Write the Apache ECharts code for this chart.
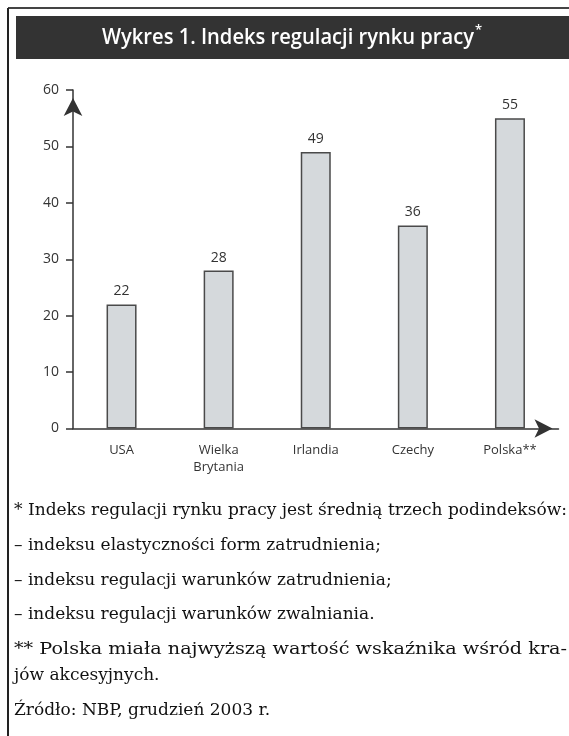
<!DOCTYPE html>
<html>
<head>
<meta charset="utf-8">
<script src="https://cdn.jsdelivr.net/npm/echarts@6/dist/echarts.min.js"></script>
<style>
  html, body { margin: 0; padding: 0; background: #fff; }
  #chart { width: 569px; height: 736px; }
</style>
</head>
<body>
<div id="chart"></div>
<script>
// dane wykresu
const categories = ['USA', 'Wielka Brytania', 'Irlandia', 'Czechy', 'Polska**'];
const values = [22, 28, 49, 36, 55];
const yMin = 0;
const yMax = 60;
const yStep = 10;

const titleText = 'Wykres 1. Indeks regulacji rynku pracy';
const notes = [
  '* Indeks regulacji rynku pracy jest średnią trzech podindeksów:',
  '– indeksu elastyczności form zatrudnienia;',
  '– indeksu regulacji warunków zatrudnienia;',
  '– indeksu regulacji warunków zwalniania.',
  '** Polska miała najwyższą wartość wskaźnika wśród kra-',
  'jów akcesyjnych.',
  'Źródło: NBP, grudzień 2003 r.'
];
const notesY = [511, 546, 581, 615, 650, 676, 711];
const justified = [true, false, false, false, true, false, false];

const chart = echarts.init(document.getElementById('chart'));

const axisColor = '#333';
const sans = '"Open Sans", "Noto Sans", sans-serif';
const titleFont = '600 21px ' + sans;
const noteFont = '17px "DejaVu Serif", "Liberation Serif", serif';

// szerokość tekstu (do ściśnięcia tytułu i wyjustowania przypisów)
const ctx = document.createElement('canvas').getContext('2d');
function textWidth(str, font) {
  ctx.font = font;
  return ctx.measureText(str).width;
}

const titleW = textWidth(titleText, titleFont);
const titleScale = 372 / titleW;
const titleLeft = 288 - 372 / 2;

const graphic = [
  // ramka
  { type: 'line', shape: { x1: 8, y1: 8, x2: 569, y2: 8 }, style: { stroke: '#444', lineWidth: 2 } },
  { type: 'line', shape: { x1: 8, y1: 8, x2: 8, y2: 736 }, style: { stroke: '#222', lineWidth: 2 } },
  // pasek tytułu
  { type: 'rect', shape: { x: 16, y: 16, width: 560, height: 43 }, style: { fill: '#333' } },
  {
    type: 'text', x: titleLeft, y: 38, scaleX: titleScale,
    style: { text: titleText, fill: '#fff', font: titleFont, verticalAlign: 'middle' }
  },
  {
    type: 'text', x: titleLeft + 373, y: 30,
    style: { text: '*', fill: '#fff', font: '600 13px ' + sans, verticalAlign: 'middle' }
  }
];

notes.forEach((line, i) => {
  const w = textWidth(line, noteFont);
  const sx = justified[i] ? 553 / w : 1;
  graphic.push({
    type: 'text', x: 14, y: notesY[i], scaleX: sx,
    style: { text: line, fill: '#111', font: noteFont, verticalAlign: 'middle' }
  });
});

const option = {
  animation: false,
  grid: { left: 73, right: 10.5, top: 90, bottom: 307.5, outerBoundsMode: 'none' },
  xAxis: {
    type: 'category',
    data: categories,
    axisLine: {
      lineStyle: { color: axisColor, width: 1.5 },
      symbol: ['none', 'arrow'],
      symbolSize: [14, 18],
      symbolOffset: [0, -6]
    },
    axisTick: { length: 6, lineStyle: { color: axisColor, width: 1.5 } },
    axisLabel: {
      color: '#333', fontFamily: sans, fontSize: 13, margin: 13, lineHeight: 17,
      formatter: (v) => v.replace(' ', '\n')
    }
  },
  yAxis: {
    type: 'value',
    min: yMin, max: yMax, interval: yStep,
    axisLine: {
      show: true,
      lineStyle: { color: axisColor, width: 1.5 },
      symbol: ['none', 'arrow'],
      symbolSize: [14, 18],
      symbolOffset: [0, -8]
    },
    axisTick: { show: true, length: 7, lineStyle: { color: axisColor, width: 1.5 } },
    splitLine: { show: false },
    axisLabel: { color: '#333', fontFamily: sans, fontSize: 14, margin: 14 }
  },
  series: [
    {
      type: 'bar',
      data: values,
      barWidth: 30,
      itemStyle: { color: '#d5d9dc', borderColor: '#4a4a4a', borderWidth: 1.5 },
      label: { show: true, position: 'top', distance: 6, color: '#333', fontFamily: sans, fontSize: 14 }
    }
  ],
  graphic: graphic
};

chart.setOption(option);
</script>
</body>
</html>
